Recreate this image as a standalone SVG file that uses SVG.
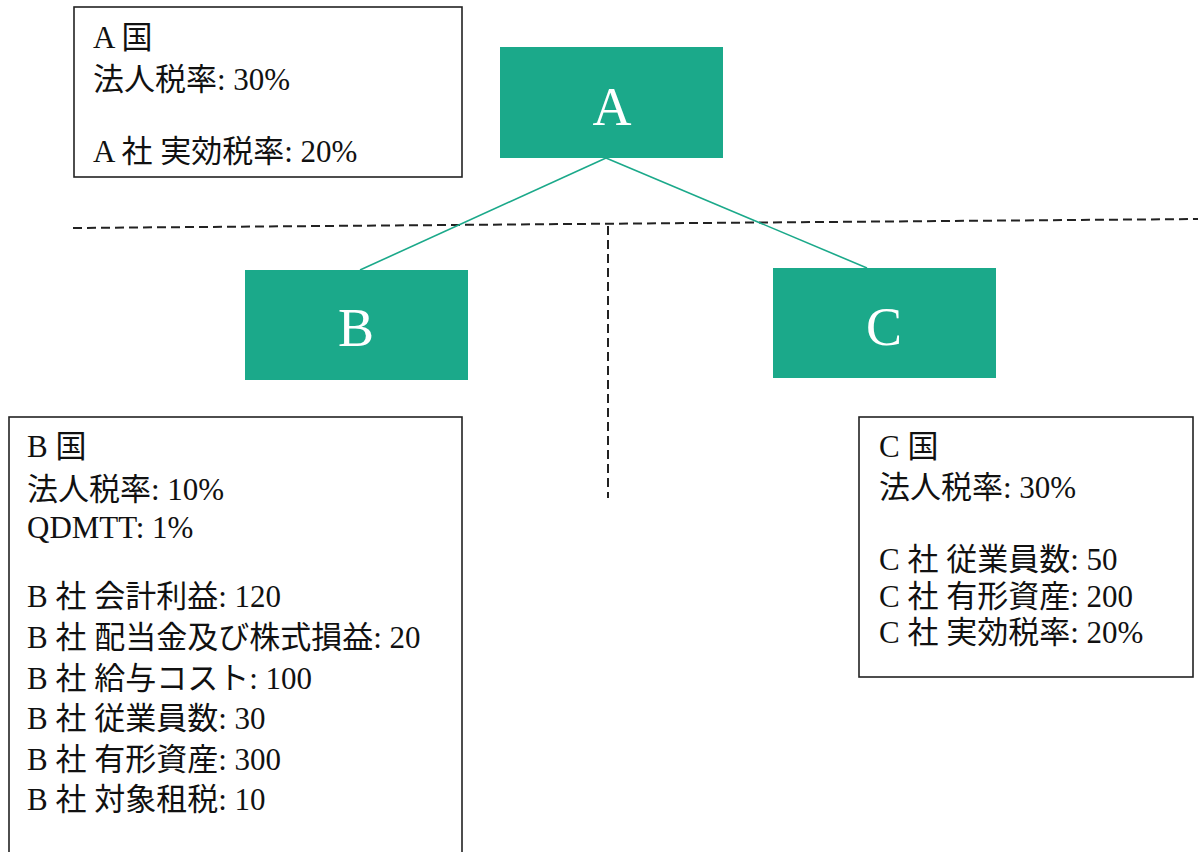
<svg xmlns="http://www.w3.org/2000/svg" width="1198" height="852" viewBox="0 0 1198 852">
<style>
.info{fill:#fff;stroke:#222;stroke-width:1.6}
.t{font-family:"Liberation Serif","Noto Sans CJK JP",serif;font-size:31px;fill:#111}
.node{fill:#1ba98a}
.nt{font-family:"Liberation Serif",serif;font-size:54px;fill:#fff;text-anchor:middle}
.dash{stroke:#222;stroke-width:2;stroke-dasharray:9 5;fill:none}
.conn{stroke:#1ba98a;stroke-width:1.6;fill:none}
</style>
<rect width="1198" height="852" fill="#fff"/>
<g id="boundaries">
<line class="dash" x1="73" y1="228" x2="1198" y2="219"/>
<line class="dash" x1="608" y1="226" x2="608" y2="498"/>
</g>
<g id="connectors">
<line class="conn" x1="606" y1="158" x2="360" y2="270"/>
<line class="conn" x1="606" y1="158" x2="867" y2="268"/>
</g>
<g id="nodeA">
<rect class="node" x="500" y="47" width="223" height="111"/>
<text class="nt" x="612" y="125">A</text>
</g>
<g id="nodeB">
<rect class="node" x="245" y="270" width="223" height="110"/>
<text class="nt" x="356" y="346">B</text>
</g>
<g id="nodeC">
<rect class="node" x="773" y="268" width="223" height="110"/>
<text class="nt" x="884" y="345">C</text>
</g>
<g id="infoA">
<rect class="info" x="74" y="7" width="388" height="170"/>
<text class="t" x="93" y="48">A 国</text>
<text class="t" x="93" y="90">法人税率: 30%</text>
<text class="t" x="93" y="162">A 社 実効税率: 20%</text>
</g>
<g id="infoB">
<rect class="info" x="9" y="417" width="453" height="445"/>
<text class="t" x="27" y="457">B 国</text>
<text class="t" x="27" y="500">法人税率: 10%</text>
<text class="t" x="27" y="538">QDMTT: 1%</text>
<text class="t" x="27" y="607">B 社 会計利益: 120</text>
<text class="t" x="27" y="648">B 社 配当金及び株式損益: 20</text>
<text class="t" x="27" y="689">B 社 給与コスト: 100</text>
<text class="t" x="27" y="729">B 社 従業員数: 30</text>
<text class="t" x="27" y="770">B 社 有形資産: 300</text>
<text class="t" x="27" y="810">B 社 対象租税: 10</text>
</g>
<g id="infoC">
<rect class="info" x="859" y="417" width="334" height="260"/>
<text class="t" x="879" y="457">C 国</text>
<text class="t" x="879" y="498">法人税率: 30%</text>
<text class="t" x="879" y="570">C 社 従業員数: 50</text>
<text class="t" x="879" y="607">C 社 有形資産: 200</text>
<text class="t" x="879" y="643">C 社 実効税率: 20%</text>
</g>
</svg>
